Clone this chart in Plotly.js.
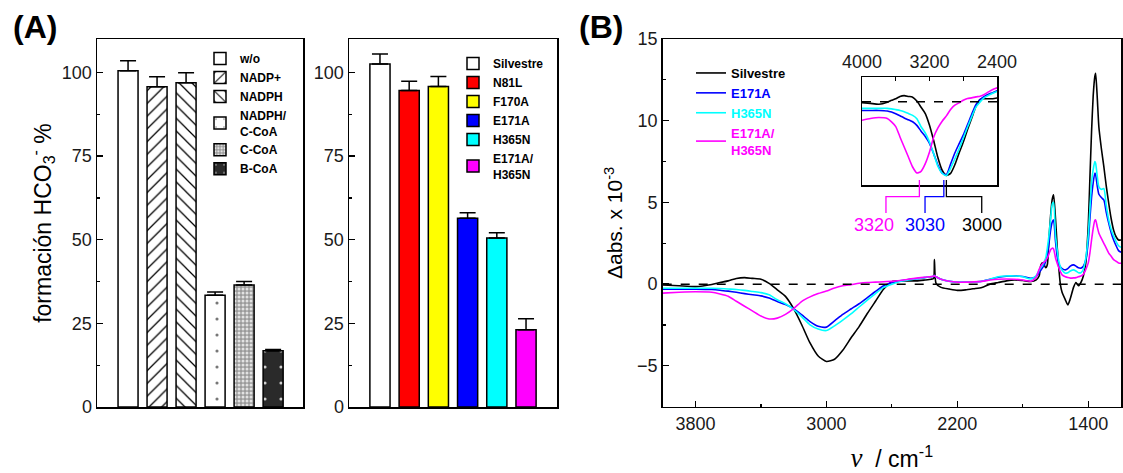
<!DOCTYPE html>
<html><head><meta charset="utf-8">
<script src="https://cdn.plot.ly/plotly-3.0.1.min.js"></script>
<style>html,body{margin:0;padding:0;background:#fff}</style>
</head><body><div id="chart" style="width:1123px;height:473px"></div>
<script>
// ---------- Panel A (left): cofactors ----------
const cofactorNames = ['w/o', 'NADP+', 'NADPH', 'NADPH/C-CoA', 'C-CoA', 'B-CoA'];
const cofactorValues = [100.5, 95.7, 96.9, 33.4, 36.5, 16.8];
const cofactorErrors = [3.0, 3.0, 3.0, 1.0, 1.0, 0.4];
// ---------- Panel A (right): variants ----------
const variantNames = ['Silvestre', 'N81L', 'F170A', 'E171A', 'H365N', 'E171A/H365N'];
const variantValues = [102.5, 94.6, 95.8, 56.4, 50.5, 23.1];
const variantErrors = [3.0, 2.8, 3.0, 1.7, 1.6, 3.3];
// ---------- Panel B: difference spectra ----------
const wavenumbers = [4000,3900,3800,3700,3650,3600,3550,3500,3450,3400,3350,3300,3250,3200,3150,3100,3050,3000,
  2950,2900,2850,2800,2750,2700,2650,2600,2550,2500,2450,2400,2360,2345,2340,2330,
  2300,2250,2200,2150,2100,2050,2000,1950,1900,1850,1800,1750,
  1720,1700,1690,1680,1670,1660,1650,1640,1630,1620,1612,1600,1590,1580,1570,1560,
  1540,1525,1510,1490,1475,1460,1445,1430,1415,1400,
  1390,1380,1370,1360,1355,1345,1335,1320,1305,1290,1275,1260,1245,1230,1215,1200];
const silvestre = [-0.05,-0.1,-0.15,-0.02,
  0.1,0.2,0.35,0.4,0.35,0.3,0.05,-0.35,-0.75,-1.5,-2.5,-3.6,-4.4,-4.73,
  -4.6,-4.05,-3.3,-2.6,-1.8,-1.05,-0.3,0.15,0.2,0.2,0.2,0.25,0.3,0.35,1.5,0.05,
  -0.2,-0.3,-0.38,-0.35,-0.28,-0.2,0.0,0.1,0.2,0.26,0.22,0.16,
  0.25,0.5,1.15,1.3,1.2,1.0,1.2,2.8,4.2,5.2,5.46,4.0,2.3,1.0,-0.05,-0.5,
  -0.96,-1.27,-0.9,-0.2,0.1,-0.1,0.1,0.5,1.3,3.6,
  6.5,9.3,11.5,12.7,12.9,11.4,9.6,8.3,7.2,6.0,4.95,4.0,3.3,2.9,2.7,2.7];
const e171a = [-0.31,-0.31,-0.31,-0.33,
  -0.37,-0.43,-0.5,-0.58,-0.65,-0.72,-0.85,-1.06,-1.25,-1.5,-1.88,-2.29,-2.58,-2.63,
  -2.25,-1.85,-1.52,-1.2,-0.83,-0.45,-0.1,0.08,0.2,0.28,0.33,0.4,0.45,0.48,0.52,0.45,
  0.3,0.18,0.12,0.12,0.14,0.18,0.3,0.42,0.48,0.5,0.47,0.35,
  0.45,0.7,0.85,1.0,1.15,1.4,1.8,2.5,3.3,3.8,3.93,2.6,1.7,1.25,1.05,0.95,
  0.87,0.95,1.1,1.18,1.1,1.0,0.98,1.1,1.5,2.6,
  4.0,5.3,6.2,6.79,6.7,6.0,5.5,5.3,5.15,4.4,3.73,3.15,2.7,2.35,2.05,1.95];
const h365n = [-0.25,-0.25,-0.25,-0.25,
  -0.27,-0.3,-0.33,-0.38,-0.45,-0.52,-0.65,-0.96,-1.2,-1.55,-2.0,-2.49,-2.75,-2.84,
  -2.55,-2.2,-1.82,-1.4,-0.98,-0.58,-0.2,0.0,0.16,0.25,0.33,0.4,0.45,0.48,0.52,0.45,
  0.3,0.18,0.12,0.12,0.14,0.18,0.3,0.45,0.5,0.5,0.45,0.32,
  0.5,0.85,1.0,1.15,1.35,1.6,2.2,3.0,4.0,4.9,5.0,3.0,2.1,1.4,1.05,0.85,
  0.67,0.7,0.8,0.87,0.8,0.7,0.7,0.9,1.6,3.0,
  4.6,6.2,7.0,7.5,7.4,6.6,5.95,5.8,5.85,4.8,3.93,3.35,2.95,2.6,2.35,2.25];
const e171aH365n = [-0.55,-0.5,-0.47,-0.5,
  -0.6,-0.74,-1.05,-1.35,-1.65,-1.95,-2.13,-2.08,-1.85,-1.5,-1.05,-0.78,-0.58,-0.42,
  -0.23,-0.1,-0.03,0.05,0.1,0.12,0.15,0.17,0.22,0.3,0.37,0.42,0.46,0.48,0.52,0.45,
  0.3,0.18,0.12,0.12,0.14,0.17,0.25,0.3,0.31,0.3,0.25,0.18,
  0.4,0.9,1.1,1.25,1.35,1.45,1.6,1.85,2.1,2.2,2.15,1.6,1.28,1.0,0.75,0.57,
  0.45,0.4,0.37,0.38,0.4,0.45,0.5,0.6,0.9,1.3,
  1.9,2.7,3.4,3.9,3.93,3.5,3.12,2.8,2.5,2.2,1.9,1.7,1.5,1.4,1.3,1.28];
const spectrumNames = ['Silvestre', 'E171A', 'H365N', 'E171A/H365N'];
const insetScale = [1, 1.78, 1.67, 2.15];          // inset curves normalised to the same minimum
const peakPositions = [3320, 3030, 3000];           // marked minima (E171A/H365N, E171A, Silvestre)
const peakLabels = ['3320', '3030', '3000'];

// ---------- styles ----------
const FONT = 'Liberation Sans, Arial, sans-serif';
const W = 1123, H = 473;
const px = v => v / W, py = v => 1 - v / H;
const variantColors = ['#ffffff', '#ff0000', '#ffff00', '#0000ff', '#00ffff', '#ff00ff'];
const lineColors = ['#000000', '#0000ff', '#00ffff', '#ff00ff'];
const calloutColors = [lineColors[3], lineColors[1], lineColors[0]];
const cofactorStyles = [
  {color: '#ffffff', pattern: {shape: ''}},
  {color: '#ffffff', pattern: {shape: '/', fgcolor: '#000', bgcolor: '#fff', size: 9, solidity: 0.14}},
  {color: '#ffffff', pattern: {shape: '\\', fgcolor: '#000', bgcolor: '#fff', size: 9, solidity: 0.14}},
  {color: '#ffffff', pattern: {shape: '.', fgcolor: '#777', bgcolor: '#fff', size: 16, solidity: 0.03}},
  {color: '#a5a5a5', pattern: {shape: '.', fgcolor: '#e2e2e2', bgcolor: '#9a9a9a', size: 4, solidity: 0.45}},
  {color: '#2a2a2a', pattern: {shape: '.', fgcolor: '#d0d0d0', bgcolor: '#2a2a2a', size: 16, solidity: 0.03}}
];
const legendLabel = n => '<b>' + n.replace(/\/(?=[A-Z])/, '/<br>') + '</b>';

const traces = [];
cofactorNames.forEach((n, i) => {
  traces.push({type: 'bar', x: [n], y: [cofactorValues[i]], width: 0.69, xaxis: 'x', yaxis: 'y',
    name: legendLabel(n), legend: 'legend2',
    marker: {color: cofactorStyles[i].color, pattern: cofactorStyles[i].pattern, line: {color: '#000', width: 1.5}},
    error_y: {type: 'data', symmetric: false, array: [cofactorErrors[i]], arrayminus: [0], color: '#000', thickness: 1.5, width: 8},
    hoverinfo: 'skip'});
});
variantNames.forEach((n, i) => {
  traces.push({type: 'bar', x: [n], y: [variantValues[i]], width: 0.69, xaxis: 'x2', yaxis: 'y2',
    name: legendLabel(n), legend: 'legend3',
    marker: {color: variantColors[i], line: {color: '#000', width: 1.5}},
    error_y: {type: 'data', symmetric: false, array: [variantErrors[i]], arrayminus: [0], color: '#000', thickness: 1.5, width: 8},
    hoverinfo: 'skip'});
});
const spectra = [silvestre, e171a, h365n, e171aH365n];
spectra.forEach((s, i) => {
  const col = lineColors[i];
  traces.push({type: 'scatter', mode: 'lines', x: wavenumbers, y: s, xaxis: 'x3', yaxis: 'y3',
    name: '<span style="color:' + col + '"><b>' + spectrumNames[i].replace('/', '/<br>') + '</b></span>',
    legend: 'legend', line: {color: col, width: 1.6, shape: 'spline', smoothing: 0.6}, hoverinfo: 'skip'});
});
spectra.forEach((s, i) => {
  traces.push({type: 'scatter', mode: 'lines', x: wavenumbers, y: s.map(v => v * insetScale[i]),
    xaxis: 'x4', yaxis: 'y4', showlegend: false,
    line: {color: lineColors[i], width: 1.6, shape: 'spline', smoothing: 0.6}, hoverinfo: 'skip'});
});

const frame = {showline: true, linecolor: '#000', linewidth: 1.5, mirror: true, showgrid: false, zeroline: false};
const tickf = {family: FONT, size: 18, color: '#1a1a1a'};
const yA = {...frame, range: [0, 110], tick0: 0, dtick: 25, ticks: 'inside', ticklen: 6, tickwidth: 1.3, tickcolor: '#000',
  tickfont: tickf, minor: {tick0: 0, dtick: 12.5, ticks: 'inside', ticklen: 3, tickwidth: 1.2, tickcolor: '#000'}};
const legendBase = {xanchor: 'left', yanchor: 'top', bgcolor: 'rgba(0,0,0,0)', tracegroupgap: 0, itemwidth: 30,
  itemclick: false, itemdoubleclick: false};

// callouts from inset minima to labels
const labelX = [3858, 3253, 2581];
const elbowX = [3716, 3253, 2581];
const calloutShapes = peakPositions.map((p, i) => ({
  type: 'path', xref: 'x4', yref: 'paper',
  path: 'M ' + p + ',' + py(180) + ' L ' + p + ',' + py(196.7) + ' L ' + elbowX[i] + ',' + py(196.7) + ' L ' + elbowX[i] + ',' + py(213),
  line: {color: calloutColors[i], width: 1.3}
}));
const calloutLabels = peakPositions.map((p, i) => ({
  xref: 'x4', yref: 'paper', x: labelX[i], y: py(225), text: peakLabels[i], showarrow: false,
  xanchor: 'center', yanchor: 'middle', font: {family: FONT, size: 18, color: calloutColors[i]}
}));

const layout = {
  width: W, height: H, margin: {l: 0, r: 0, t: 0, b: 0},
  paper_bgcolor: '#fff', plot_bgcolor: '#fff', font: {family: FONT, color: '#000'},
  barmode: 'overlay', showlegend: true,
  xaxis: {...frame, domain: [px(97), px(303)], anchor: 'y', type: 'category', categoryarray: cofactorNames,
    range: [-1.07, 6.03], showticklabels: false, ticks: ''},
  yaxis: {...yA, domain: [py(407), py(39)], anchor: 'x',
    title: {text: 'formación HCO<sub>3</sub><sup>-</sup> %', font: {family: FONT, size: 23}, standoff: 4}},
  xaxis2: {...frame, domain: [px(349), px(557)], anchor: 'y2', type: 'category', categoryarray: variantNames,
    range: [-1.06, 6.06], showticklabels: false, ticks: ''},
  yaxis2: {...yA, domain: [py(407), py(39)], anchor: 'x2'},
  xaxis3: {...frame, domain: [px(662.7), px(1121)], anchor: 'y3', range: [4000, 1200], tick0: 1400, dtick: 800,
    ticks: 'inside', ticklen: 6, tickwidth: 1.3, tickcolor: '#000', tickfont: tickf,
    minor: {tick0: 1400, dtick: 400, ticks: 'inside', ticklen: 3, tickwidth: 1.2, tickcolor: '#000'},
    title: {text: '<span style="font-family:Liberation Serif;font-size:27px"><i>ν</i></span>  / cm<sup>-1</sup>', font: {family: FONT, size: 23}, standoff: 20}},
  yaxis3: {...frame, domain: [py(406.7), py(39)], anchor: 'x3', range: [-7.5, 15], tick0: 0, dtick: 5,
    ticks: 'inside', ticklen: 6, tickwidth: 1.3, tickcolor: '#000', tickfont: tickf,
    minor: {tick0: 0, dtick: 2.5, ticks: 'inside', ticklen: 3, tickwidth: 1.2, tickcolor: '#000'},
    title: {text: 'Δabs. x 10<sup>-3</sup>', font: {family: FONT, size: 21}, standoff: 8}},
  xaxis4: {...frame, domain: [px(862), px(997)], anchor: 'y4', side: 'top', range: [4000, 2400],
    tickmode: 'array', tickvals: [4000, 3200, 2400],
    ticks: 'inside', ticklen: 4, tickwidth: 1.2, tickcolor: '#000', tickfont: tickf,
    minor: {tickvals: [3600, 2800], ticks: 'inside', ticklen: 4, tickwidth: 1.2, tickcolor: '#000'}},
  yaxis4: {...frame, domain: [py(185), py(77)], anchor: 'x4', range: [-5.35, 1.6], showticklabels: false, ticks: ''},
  legend: {...legendBase, x: px(691), y: py(58), font: {family: FONT, size: 13}},
  legend2: {...legendBase, x: px(200), y: py(44), font: {family: FONT, size: 12}},
  legend3: {...legendBase, x: px(453), y: py(49), font: {family: FONT, size: 12}},
  shapes: [
    {type: 'line', xref: 'x3 domain', yref: 'y3', x0: 0, x1: 1, y0: 0, y1: 0, line: {color: '#000', width: 1.5, dash: 'dash'}},
    {type: 'line', xref: 'x4 domain', yref: 'y4', x0: 0, x1: 1, y0: 0, y1: 0, line: {color: '#000', width: 1.5, dash: 'dash'}},
    ...calloutShapes
  ],
  annotations: [
    {xref: 'paper', yref: 'paper', x: px(35), y: py(27), xanchor: 'center', yanchor: 'middle', text: '<b>(A)</b>', showarrow: false, font: {family: FONT, size: 32}},
    {xref: 'paper', yref: 'paper', x: px(601), y: py(27), xanchor: 'center', yanchor: 'middle', text: '<b>(B)</b>', showarrow: false, font: {family: FONT, size: 32}},
    ...calloutLabels
  ]
};
Plotly.newPlot('chart', traces, layout, {staticPlot: true, displayModeBar: false});
</script></body></html>
